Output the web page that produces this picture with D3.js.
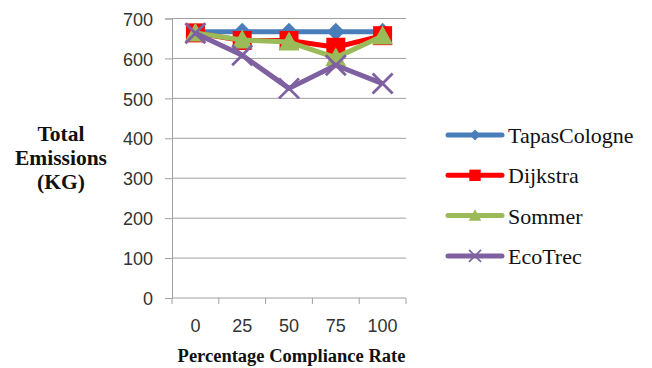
<!DOCTYPE html>
<html>
<head>
<meta charset="utf-8">
<script src="https://cdn.jsdelivr.net/npm/d3@7"></script>
<style>
  html, body { margin: 0; padding: 0; background: #fff; }
  svg { display: block; }
</style>
</head>
<body>
<svg id="chart" width="652" height="368"></svg>
<script>
// Compliance rates (x categories) and emissions per routing algorithm
const rates = ["0", "25", "50", "75", "100"];
const yTicks = [0, 100, 200, 300, 400, 500, 600, 700];
const tapasCologne = [667, 667, 667, 667, 667];
const dijkstra = [664, 645, 645, 628, 657];
const sommer = [664, 646, 641, 602, 656];
const ecoTrec = [663, 608, 525, 583, 537];

const seriesNames = ["TapasCologne", "Dijkstra", "Sommer", "EcoTrec"];
const seriesColors = ["#4a7ebb", "#ff0000", "#9bbb59", "#7f60a0"];
const seriesMarkers = ["diamond", "square", "triangle", "cross"];
const seriesValues = [tapasCologne, dijkstra, sommer, ecoTrec];

const SANS = "Liberation Sans";
const SERIF = "Liberation Serif";
const AXIS_GREY = "#a0a0a0";

const svg = d3.select("#chart");
const plotLeft = 172, plotRight = 406, plotTop = 18.5, plotBottom = 298;

const x = d3.scaleBand().domain(rates).range([plotLeft, plotRight]);
const y = d3.scaleLinear().domain([0, 700]).range([plotBottom, plotTop]);
const cx = r => x(r) + x.bandwidth() / 2;

// Horizontal gridlines
svg.append("g")
  .selectAll("line")
  .data(yTicks.filter(d => d > 0))
  .join("line")
  .attr("x1", plotLeft).attr("x2", plotRight)
  .attr("y1", d => y(d)).attr("y2", d => y(d))
  .attr("stroke", AXIS_GREY).attr("stroke-width", 1);

// Y axis
const yAxis = svg.append("g")
  .attr("transform", `translate(${plotLeft},0)`)
  .call(d3.axisLeft(y).tickValues(yTicks).tickSize(7).tickPadding(12));
yAxis.select(".domain").attr("stroke", AXIS_GREY);
yAxis.selectAll(".tick line").attr("stroke", AXIS_GREY);
yAxis.selectAll(".tick text")
  .attr("dy", "0.37em")
  .style("font-family", SANS).style("font-size", "18px")
  .attr("fill", "#333");

// X axis with ticks on band boundaries
const xAxis = svg.append("g").attr("transform", `translate(0,${plotBottom})`);
xAxis.append("line")
  .attr("x1", plotLeft).attr("x2", plotRight)
  .attr("stroke", AXIS_GREY);
const boundaries = rates.map(r => x(r)).concat([plotRight]);
xAxis.selectAll(".xt")
  .data(boundaries)
  .join("line")
  .attr("class", "xt")
  .attr("x1", d => d).attr("x2", d => d)
  .attr("y1", 0).attr("y2", 6)
  .attr("stroke", AXIS_GREY);
xAxis.selectAll("text")
  .data(rates)
  .join("text")
  .attr("x", d => cx(d))
  .attr("y", 33.5)
  .attr("text-anchor", "middle")
  .style("font-family", SANS).style("font-size", "18px")
  .attr("fill", "#333")
  .text(d => d);

// Axis titles
const yTitle = svg.append("text")
  .attr("text-anchor", "middle")
  .style("font-family", SERIF).style("font-weight", "bold").style("font-size", "21.5px")
  .attr("fill", "#111");
["Total", "Emissions", "(KG)"].forEach((t, i) => {
  yTitle.append("tspan").attr("x", 61).attr("y", 140.5 + i * 24).text(t);
});

svg.append("text")
  .attr("x", 291.5).attr("y", 362)
  .attr("text-anchor", "middle")
  .style("font-family", SERIF).style("font-weight", "bold").style("font-size", "18.5px")
  .attr("fill", "#111")
  .text("Percentage Compliance Rate");

// Marker drawing
function drawMarker(g, kind, color, px, py, s) {
  if (kind === "diamond") {
    const h = 9 * s;
    g.append("path")
      .attr("d", `M${px},${py - h} L${px + h},${py} L${px},${py + h} L${px - h},${py} Z`)
      .attr("fill", color);
  } else if (kind === "square") {
    g.append("rect")
      .attr("x", px - 9.5 * s).attr("y", py - 9.5 * s)
      .attr("width", 19 * s).attr("height", 19 * s)
      .attr("fill", color);
  } else if (kind === "triangle") {
    const h = 19 * s, w = 21 * s;
    g.append("path")
      .attr("d", `M${px},${py - h * 0.55} L${px + w / 2},${py + h * 0.45} L${px - w / 2},${py + h * 0.45} Z`)
      .attr("fill", color);
  } else if (kind === "cross") {
    const r = 10 * s;
    g.append("path")
      .attr("d", `M${px - r},${py - r} L${px + r},${py + r} M${px - r},${py + r} L${px + r},${py - r}`)
      .attr("stroke", color).attr("stroke-width", 2.8 * Math.max(s, 0.6)).attr("fill", "none");
  }
}

const line = d3.line()
  .x((d, i) => cx(rates[i]))
  .y(d => y(d));

seriesValues.forEach((vals, si) => {
  const g = svg.append("g");
  g.append("path")
    .datum(vals)
    .attr("d", line)
    .attr("fill", "none")
    .attr("stroke", seriesColors[si])
    .attr("stroke-width", 5)
    .attr("stroke-linejoin", "round");
  vals.forEach((v, i) => {
    drawMarker(g, seriesMarkers[si], seriesColors[si], cx(rates[i]), y(v), 1);
  });
});

// Legend
const legend = svg.append("g");
seriesNames.forEach((name, i) => {
  const ly = 135 + i * 40.3;
  legend.append("line")
    .attr("x1", 448).attr("x2", 502)
    .attr("y1", ly).attr("y2", ly)
    .attr("stroke", seriesColors[i]).attr("stroke-width", 5)
    .attr("stroke-linecap", "round");
  drawMarker(legend, seriesMarkers[i], seriesColors[i], 475, ly, 0.6);
  legend.append("text")
    .attr("x", 508).attr("y", ly + 8)
    .style("font-family", SERIF).style("font-size", "22px")
    .attr("fill", "#111")
    .text(name);
});
</script>
</body>
</html>
